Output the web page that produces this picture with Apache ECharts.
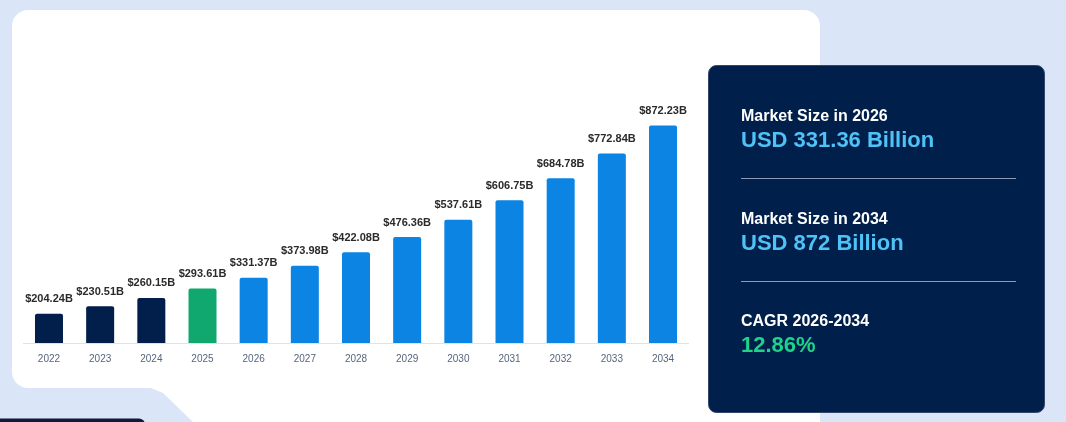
<!DOCTYPE html>
<html>
<head>
<meta charset="utf-8">
<script src="https://cdn.jsdelivr.net/npm/echarts@6/dist/echarts.min.js"></script>
<style>
html,body{margin:0;padding:0;background:#dae6f8;}
#chart{width:1066px;height:422px;}
</style>
</head>
<body>
<div id="chart"></div>
<script>
var years = ['2022','2023','2024','2025','2026','2027','2028','2029','2030','2031','2032','2033','2034'];
var values = [204.24,230.51,260.15,293.61,331.37,373.98,422.08,476.36,537.61,606.75,684.78,772.84,872.23];
var barColors = ['#021e4a','#021e4a','#021e4a','#11a870','#0b84e3','#0b84e3','#0b84e3','#0b84e3','#0b84e3','#0b84e3','#0b84e3','#0b84e3','#0b84e3'];
var panelTitles = ['Market Size in 2026','Market Size in 2034','CAGR 2026-2034'];
var panelValues = ['USD 331.36 Billion','USD 872 Billion','12.86%'];
var panelValueColors = ['#4fc3f7','#4fc3f7','#1fd28a'];

var FONT = '"Liberation Sans", Arial, Helvetica, sans-serif';
var chart = echarts.init(document.getElementById('chart'));

var graphics = [
  {type:'rect', z:-10, shape:{x:12,y:10,width:808,height:378,r:16}, style:{fill:'#ffffff'}},
  {type:'polygon', z:-10, shape:{points:[[40,376],[820,376],[820,422],[193,422],[163,393],[151,388],[40,388]]}, style:{fill:'#ffffff'}},
  {type:'rect', z:-9, shape:{x:-10,y:418.5,width:155,height:20,r:6}, style:{fill:'#0f1a3a'}},
  {type:'rect', z:-8, shape:{x:708.5,y:65.5,width:336,height:347,r:8}, style:{fill:'#001f4a',stroke:'#33476b',lineWidth:1}}
];
var blockY = [117, 220, 322];
for (var i = 0; i < panelTitles.length; i++) {
  graphics.push({type:'text', z:5, x:741, y:blockY[i], style:{text:panelTitles[i], fill:'#ffffff', font:'bold 16px ' + FONT, verticalAlign:'middle', align:'left'}});
  graphics.push({type:'text', z:5, x:741, y:blockY[i]+24, style:{text:panelValues[i], fill:panelValueColors[i], font:'bold 22px ' + FONT, verticalAlign:'middle', align:'left'}});
  if (i < panelTitles.length - 1) {
    graphics.push({type:'line', z:5, shape:{x1:741,y1:blockY[i]+61.5,x2:1016,y2:blockY[i]+61.5}, style:{stroke:'#8d9bb3',lineWidth:1}});
  }
}

chart.setOption({
  animation:false,
  grid:{left:23.4, right:377.4, top:89.6, bottom:79, containLabel:false},
  xAxis:{
    type:'category', data:years,
    axisLine:{show:true, lineStyle:{color:'#dde3ea', width:1}},
    axisTick:{show:false},
    axisLabel:{color:'#56657f', fontSize:10, fontFamily:FONT, margin:11}
  },
  yAxis:{type:'value', min:100, max:1000, show:false, splitLine:{show:false}},
  series:[{
    type:'bar', barWidth:28,
    data: values.map(function(v, i){ return {value:v, itemStyle:{color:barColors[i], borderRadius:[2,2,0,0]}}; }),
    label:{show:true, position:'top', distance:9, color:'#2b2b2b', fontSize:11, fontWeight:'bold', fontFamily:FONT,
      formatter:function(p){ return '$' + p.value.toFixed(2) + 'B'; }}
  }],
  graphic: graphics
});
</script>
</body>
</html>
